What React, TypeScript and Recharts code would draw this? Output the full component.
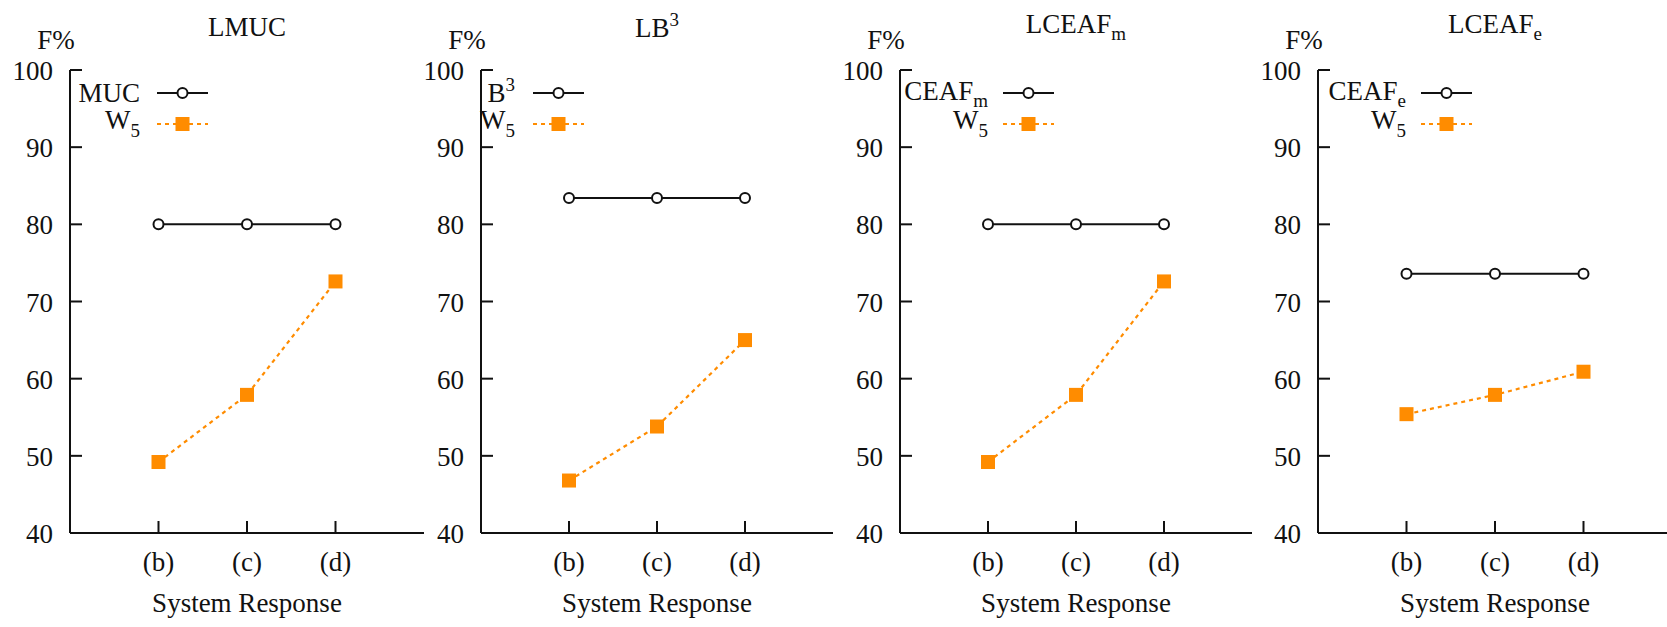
import React from "react";
import { LineChart, Line, XAxis, YAxis, Legend } from "recharts";

// values (F% per system response)
const categories = ["(b)", "(c)", "(d)"];
const yTicks = [40, 50, 60, 70, 80, 90, 100];

const mucF = [80, 80, 80];
const w5MucF = [49.2, 57.9, 72.6];
const b3F = [83.4, 83.4, 83.4];
const w5B3F = [46.8, 53.8, 65.0];
const ceafmF = [80, 80, 80];
const w5CeafmF = [49.2, 57.9, 72.6];
const ceafeF = [73.6, 73.6, 73.6];
const w5CeafeF = [55.4, 57.9, 60.9];

const FONT = '"Liberation Serif", "Times New Roman", serif';
const INK = "#111";
const ORANGE = "#ff8c00";
const FS = 27;
const SMALL = 19;

type Rich = { main: string; sub?: string; sup?: string };

type Panel = {
  title: Rich;
  base: Rich;
  baseVals: number[];
  w5Vals: number[];
  plotLeft: number;
  plotWidth: number;
  textRight: number;
  lineStart: number;
};

const panels: Panel[] = [
  { title: { main: "LMUC" }, base: { main: "MUC" }, baseVals: mucF, w5Vals: w5MucF, plotLeft: 70, plotWidth: 354, textRight: 70, lineStart: 87 },
  { title: { main: "LB", sup: "3" }, base: { main: "B", sup: "3" }, baseVals: b3F, w5Vals: w5B3F, plotLeft: 481, plotWidth: 352, textRight: 34, lineStart: 52 },
  { title: { main: "LCEAF", sub: "m" }, base: { main: "CEAF", sub: "m" }, baseVals: ceafmF, w5Vals: w5CeafmF, plotLeft: 900, plotWidth: 352, textRight: 88, lineStart: 103 },
  { title: { main: "LCEAF", sub: "e" }, base: { main: "CEAF", sub: "e" }, baseVals: ceafeF, w5Vals: w5CeafeF, plotLeft: 1318, plotWidth: 354, textRight: 88, lineStart: 103 },
];

const AXIS_W = 70;
const TOP = 70;
const H = 627;
const XAXIS_H = 94;

function RichText({ x, y, t, anchor }: { x: number; y: number; t: Rich; anchor: "start" | "middle" | "end" }) {
  return (
    <text x={x} y={y} textAnchor={anchor} fontFamily={FONT} fontSize={FS} fill={INK}>
      <tspan>{t.main}</tspan>
      {t.sub && (
        <tspan fontSize={SMALL} dy={7}>
          {t.sub}
        </tspan>
      )}
      {t.sup && (
        <tspan fontSize={SMALL} dy={-11}>
          {t.sup}
        </tspan>
      )}
    </text>
  );
}

const BottomTick = (props: any) => {
  const { x, y, payload } = props;
  return (
    <g>
      <line x1={x} x2={x} y1={y} y2={y - 12} stroke={INK} strokeWidth={2} />
      <text x={x} y={y + 38} textAnchor="middle" fontFamily={FONT} fontSize={FS} fill={INK}>
        {categories[payload.value - 1]}
      </text>
    </g>
  );
};

const TopTick = (props: any) => {
  const { x, y } = props;
  return <line x1={x} x2={x} y1={y} y2={y + 10} stroke={INK} strokeWidth={2} />;
};

const LeftTick = (props: any) => {
  const { x, y, payload } = props;
  return (
    <g>
      <line x1={x} x2={x + 12} y1={y} y2={y} stroke={INK} strokeWidth={2} />
      <text x={x - 17} y={y + 10} textAnchor="end" fontFamily={FONT} fontSize={FS} fill={INK}>
        {payload.value}
      </text>
    </g>
  );
};

const SquareDot = (props: any) => {
  const { cx, cy, index } = props;
  if (cx == null || cy == null) return <g key={index} />;
  return <rect key={index} x={cx - 7} y={cy - 7} width={14} height={14} fill={ORANGE} />;
};

function PanelChart({ p }: { p: Panel }) {
  const rows = categories.map((c, i) => ({ x: i + 1, name: c, base: p.baseVals[i], w5: p.w5Vals[i] }));
  const chartW = AXIS_W + p.plotWidth + 4;
  const ls = AXIS_W + p.lineStart;
  const le = ls + 51;
  const lm = (ls + le) / 2;
  const titleBase = p.title.sub ? 33 : p.title.sup ? 37 : 36;

  const legendContent = () => (
    <svg width={chartW} height={150} style={{ display: "block" }}>
      <RichText x={AXIS_W + p.textRight} y={p.base.sub ? 100 : 102} t={p.base} anchor="end" />
      <line x1={ls} x2={le} y1={93} y2={93} stroke={INK} strokeWidth={2} />
      <circle cx={lm} cy={93} r={5} fill="#fff" stroke={INK} strokeWidth={2} />
      <text x={AXIS_W + p.textRight} y={129} textAnchor="end" fontFamily={FONT} fontSize={FS} fill={INK}>
        <tspan>W</tspan>
        <tspan fontSize={SMALL} dy={8}>5</tspan>
      </text>
      <line x1={ls} x2={le} y1={124} y2={124} stroke={ORANGE} strokeWidth={2} strokeDasharray="4 4" />
      <rect x={lm - 7} y={117} width={14} height={14} fill={ORANGE} />
    </svg>
  );

  return (
    <div style={{ position: "absolute", left: p.plotLeft - AXIS_W, top: 0 }}>
      <LineChart width={chartW} height={H} data={rows} margin={{ top: TOP, right: 4, bottom: 0, left: 0 }}>
        <XAxis
          xAxisId="b"
          dataKey="x"
          type="number"
          domain={[0, 4]}
          ticks={[1, 2, 3]}
          height={XAXIS_H}
          tickSize={0}
          tickMargin={0}
          tickLine={false}
          axisLine={{ stroke: INK, strokeWidth: 2 }}
          tick={<BottomTick />}
          label={{
            content: (lp: any) => {
              const vb = lp.viewBox;
              return (
                <text x={vb.x + vb.width / 2} y={vb.y + 79} textAnchor="middle" fontFamily={FONT} fontSize={FS} fill={INK}>
                  System Response
                </text>
              );
            },
          }}
        />
        <XAxis
          xAxisId="t"
          orientation="top"
          dataKey="x"
          type="number"
          domain={[0, 4]}
          ticks={[1, 2, 3]}
          height={0}
          tickSize={0}
          tickMargin={0}
          tickLine={false}
          axisLine={{ stroke: INK, strokeWidth: 2 }}
          tick={<TopTick />}
        />
        <YAxis
          yAxisId="l"
          type="number"
          domain={[40, 100]}
          ticks={yTicks}
          width={AXIS_W}
          tickSize={0}
          tickMargin={0}
          tickLine={false}
          axisLine={{ stroke: INK, strokeWidth: 2 }}
          tick={<LeftTick />}
          label={{
            content: (lp: any) => {
              const vb = lp.viewBox;
              const axisX = vb.x + vb.width;
              return (
                <g>
                  <text x={axisX - 14} y={vb.y - 21} textAnchor="middle" fontFamily={FONT} fontSize={FS} fill={INK}>
                    F%
                  </text>
                  <RichText x={axisX + p.plotWidth / 2} y={titleBase} t={p.title} anchor="middle" />
                </g>
              );
            },
          }}
        />
        <YAxis
          yAxisId="r"
          orientation="right"
          type="number"
          domain={[40, 100]}
          width={0}
          tick={false}
          tickLine={false}
          axisLine={{ stroke: INK, strokeWidth: 2 }}
        />
        <Legend
          layout="vertical"
          align="center"
          verticalAlign="middle"
          content={legendContent}
          wrapperStyle={{ left: 0, top: 0, width: chartW, height: 150, pointerEvents: "none" }}
        />
        <Line
          xAxisId="b"
          yAxisId="l"
          dataKey="base"
          type="linear"
          stroke={INK}
          strokeWidth={2}
          dot={{ r: 5, fill: "#fff", stroke: INK, strokeWidth: 2 }}
          activeDot={false}
          isAnimationActive={false}
        />
        <Line
          xAxisId="b"
          yAxisId="l"
          dataKey="w5"
          type="linear"
          stroke={ORANGE}
          strokeWidth={2.2}
          strokeDasharray="4 4"
          dot={<SquareDot />}
          activeDot={false}
          isAnimationActive={false}
        />
      </LineChart>
    </div>
  );
}

export default function App() {
  return (
    <div
      style={{
        position: "absolute",
        left: 0,
        top: 0,
        width: 1667,
        height: 627,
        background: "#fff",
        overflow: "hidden",
        fontFamily: FONT,
      }}
    >
      {panels.map((p) => (
        <PanelChart key={p.title.main + (p.title.sub ?? "") + (p.title.sup ?? "")} p={p} />
      ))}
    </div>
  );
}
